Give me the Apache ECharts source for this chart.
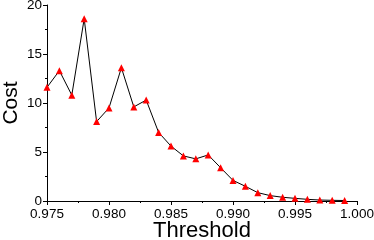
<!DOCTYPE html>
<html><head><meta charset="utf-8">
<script src="https://cdn.jsdelivr.net/npm/echarts@6/dist/echarts.min.js"></script>
<style>html,body{margin:0;padding:0;background:#fff}#c{width:374px;height:240px}</style>
</head><body><div id="c"></div>
<script>
var thresholds = [0.975,0.976,0.977,0.978,0.979,0.980,0.981,0.982,0.983,0.984,0.985,0.986,0.987,0.988,0.989,0.990,0.991,0.992,0.993,0.994,0.995,0.996,0.997,0.998,0.999];
var costs = [11.6,13.3,10.8,18.6,8.1,9.5,13.6,9.6,10.3,7.0,5.6,4.6,4.3,4.7,3.4,2.1,1.5,0.85,0.55,0.38,0.27,0.17,0.1,0.07,0.05];
var xTitle = 'Threshold', yTitle = 'Cost';
var data = thresholds.map(function(t,i){return [t, costs[i]];});
var chart = echarts.init(document.getElementById('c'), null, {renderer:'canvas'});
var font = 'Liberation Sans, Arial, sans-serif';
chart.setOption({
  animation:false,
  grid:{left:47,right:17,top:5,bottom:39,containLabel:false,outerBoundsMode:'none'},
  xAxis:{type:'value',min:0.975,max:1.0,interval:0.005,
    name:xTitle,nameLocation:'middle',nameGap:19,nameMoveOverlap:false,
    nameTextStyle:{fontFamily:font,fontSize:22,color:'#000'},
    axisLine:{lineStyle:{color:'#000',width:1}},
    axisTick:{show:true,length:4,lineStyle:{color:'#000'}},
    minorTick:{show:true,splitNumber:2,length:2,lineStyle:{color:'#000'}},
    splitLine:{show:false},
    axisLabel:{fontFamily:font,fontSize:13.5,color:'#000',margin:6,
      formatter:function(v){return v.toFixed(3);}}},
  yAxis:{type:'value',min:0,max:20,interval:5,
    name:yTitle,nameLocation:'middle',nameGap:25,nameMoveOverlap:false,
    nameTextStyle:{fontFamily:font,fontSize:21,color:'#000'},
    axisLine:{show:true,lineStyle:{color:'#000',width:1}},
    axisTick:{show:true,length:4,lineStyle:{color:'#000'}},
    minorTick:{show:true,splitNumber:2,length:2,lineStyle:{color:'#000'}},
    splitLine:{show:false},
    axisLabel:{fontFamily:font,fontSize:13.5,color:'#000',margin:5}},
  series:[{type:'line',data:data,symbol:'triangle',symbolSize:7,
    lineStyle:{color:'#000',width:1},
    itemStyle:{color:'#ff0000'},z:3}]
});
</script></body></html>
